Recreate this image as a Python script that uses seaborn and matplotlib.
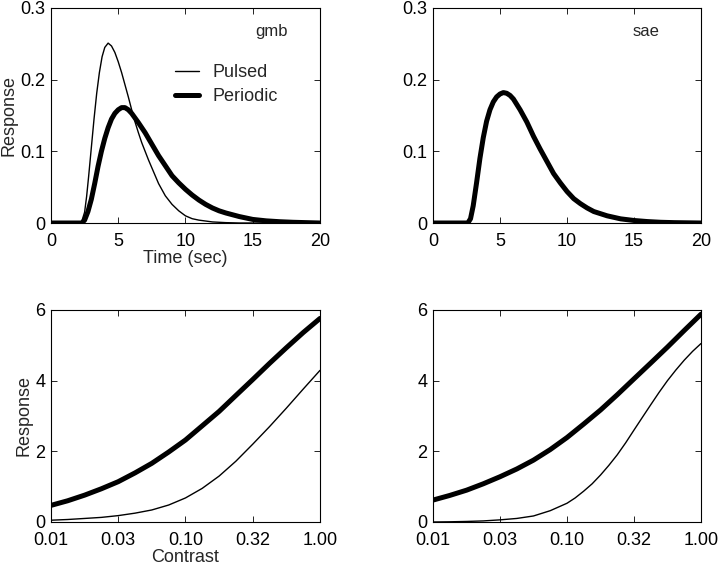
import matplotlib
matplotlib.use("Agg")
import matplotlib.pyplot as plt
import seaborn as sns
from matplotlib.ticker import NullLocator, FixedLocator, FixedFormatter

# --- values ---
# top row: responses over time (sec)
time_gmb_pulsed = [0, 2.1, 2.3, 2.5, 2.65, 2.8, 3.0, 3.2, 3.4, 3.6, 3.8, 4.0, 4.25, 4.5,
                   4.75, 5.0, 5.25, 5.5, 5.75, 6.0, 6.25, 6.5, 6.75, 7.0, 7.25, 7.5,
                   8.0, 8.5, 9.0, 9.5, 10, 10.5, 11, 12, 13, 14, 20]
resp_gmb_pulsed = [0, 0, 0.003, 0.015, 0.037, 0.065, 0.105, 0.145, 0.181, 0.21, 0.232,
                   0.245, 0.251, 0.247, 0.238, 0.225, 0.21, 0.193, 0.176, 0.158, 0.141,
                   0.126, 0.112, 0.1, 0.088, 0.077, 0.055, 0.038, 0.026, 0.017, 0.01,
                   0.006, 0.004, 0.0015, 0.0005, 0, 0]

time_gmb_periodic = [0, 2.3, 2.5, 2.75, 3.0, 3.25, 3.5, 3.75, 4.0, 4.25, 4.5, 4.75, 5.0,
                     5.25, 5.5, 5.75, 6.0, 6.5, 7.0, 7.5, 8.0, 8.5, 9.0, 9.5, 10, 10.5,
                     11, 11.5, 12, 12.5, 13, 14, 15, 16, 17, 18, 19, 20]
resp_gmb_periodic = [0, 0, 0.004, 0.016, 0.033, 0.055, 0.079, 0.1, 0.118, 0.133, 0.145,
                     0.153, 0.158, 0.161, 0.161, 0.158, 0.153, 0.14, 0.126, 0.11, 0.094,
                     0.08, 0.066, 0.056, 0.047, 0.039, 0.032, 0.026, 0.021, 0.017, 0.014,
                     0.009, 0.005, 0.003, 0.0018, 0.001, 0.0005, 0]

time_sae_periodic = [0, 2.6, 2.8, 3.0, 3.25, 3.5, 3.75, 4.0, 4.25, 4.5, 4.75, 5.0, 5.25,
                     5.5, 5.75, 6.0, 6.5, 7.0, 7.5, 8.0, 8.5, 9.0, 9.5, 10, 10.5, 11,
                     11.5, 12, 12.5, 13, 14, 15, 16, 17, 18, 20]
resp_sae_periodic = [0, 0, 0.006, 0.024, 0.056, 0.09, 0.119, 0.142, 0.158, 0.169, 0.176,
                     0.18, 0.182, 0.181, 0.178, 0.173, 0.158, 0.141, 0.121, 0.103, 0.086,
                     0.069, 0.056, 0.044, 0.034, 0.027, 0.021, 0.016, 0.013, 0.01, 0.0058,
                     0.0035, 0.002, 0.001, 0.0005, 0]

# bottom row: responses vs contrast
contrast = [0.01, 0.0133, 0.0178, 0.0237, 0.0316, 0.0422, 0.0562, 0.075, 0.1, 0.133,
            0.178, 0.237, 0.316, 0.422, 0.562, 0.75, 1.0]
resp_gmb_pulsed_c = [0.05, 0.07, 0.1, 0.13, 0.18, 0.25, 0.34, 0.48, 0.68, 0.95, 1.3,
                     1.72, 2.2, 2.7, 3.22, 3.76, 4.29]
resp_gmb_periodic_c = [0.47, 0.6, 0.76, 0.94, 1.14, 1.39, 1.66, 1.98, 2.32, 2.72, 3.13,
                       3.58, 4.03, 4.49, 4.93, 5.36, 5.76]
resp_sae_periodic_c = [0.62, 0.75, 0.9, 1.08, 1.28, 1.5, 1.75, 2.05, 2.39, 2.77, 3.17,
                       3.6, 4.05, 4.5, 4.95, 5.42, 5.88]

contrast_fine = [0.01, 0.0133, 0.0178, 0.0237, 0.0316, 0.0422, 0.0562, 0.075, 0.1,
                 0.115, 0.133, 0.154, 0.178, 0.205, 0.237, 0.274, 0.316, 0.365, 0.422,
                 0.487, 0.562, 0.649, 0.75, 0.866, 1.0]
resp_sae_pulsed_c = [0.0, 0.005, 0.015, 0.03, 0.06, 0.1, 0.17, 0.32, 0.53, 0.68, 0.87,
                     1.08, 1.33, 1.6, 1.9, 2.24, 2.6, 2.96, 3.32, 3.67, 4.0, 4.3, 4.58,
                     4.83, 5.05]

contrast_ticks = [0.01, 0.0316, 0.1, 0.316, 1.0]
contrast_ticklabels = ["0.01", "0.03", "0.10", "0.32", "1.00"]

sns.set_style("ticks")
plt.rcParams["font.family"] = ["Liberation Sans", "DejaVu Sans"]
plt.rcParams["axes.edgecolor"] = "black"
plt.rcParams["xtick.color"] = "black"
plt.rcParams["ytick.color"] = "black"

THIN = 1.0
THICK = 3.6

fig = plt.figure(figsize=(7.2, 5.67), dpi=100)
ax_tl = fig.add_axes([0.0708, 0.6067, 0.3736, 0.3792])
ax_tr = fig.add_axes([0.6014, 0.6067, 0.3722, 0.3792])
ax_bl = fig.add_axes([0.0708, 0.0794, 0.3736, 0.3739])
ax_br = fig.add_axes([0.6014, 0.0794, 0.3722, 0.3739])


def style_axes(ax):
    for s in ax.spines.values():
        s.set_visible(True)
        s.set_color("black")
        s.set_linewidth(0.8)
    ax.tick_params(direction="in", length=4, width=0.6, top=True, right=True,
                   labelsize=13)
    ax.tick_params(axis="x", pad=7)
    ax.tick_params(axis="y", pad=4)


# top left: gmb
sns.lineplot(x=time_gmb_pulsed, y=resp_gmb_pulsed, ax=ax_tl, color="black",
             linewidth=THIN, label="Pulsed", sort=False)
sns.lineplot(x=time_gmb_periodic, y=resp_gmb_periodic, ax=ax_tl, color="black",
             linewidth=THICK, label="Periodic", sort=False)
ax_tl.legend(loc="upper left", bbox_to_anchor=(0.40, 0.815), frameon=False,
             fontsize=13, handlelength=1.35, handletextpad=0.75, labelspacing=0.4)
ax_tl.text(0.76, 0.87, "gmb", transform=ax_tl.transAxes, fontsize=12)
ax_tl.set_xlabel("Time (sec)", fontsize=13, labelpad=0)
ax_tl.set_ylabel("Response", fontsize=13, labelpad=2)

# top right: sae
sns.lineplot(x=time_sae_periodic, y=resp_sae_periodic, ax=ax_tr, color="black",
             linewidth=THICK, sort=False)
ax_tr.text(0.745, 0.87, "sae", transform=ax_tr.transAxes, fontsize=12)

for ax in (ax_tl, ax_tr):
    ax.set_xlim(0, 20)
    ax.set_ylim(0, 0.3)
    ax.set_xticks([0, 5, 10, 15, 20])
    ax.set_yticks([0, 0.1, 0.2, 0.3])
    ax.set_yticklabels(["0", "0.1", "0.2", "0.3"])
    style_axes(ax)

# bottom left: gmb contrast
sns.lineplot(x=contrast, y=resp_gmb_pulsed_c, ax=ax_bl, color="black",
             linewidth=THIN, sort=False)
sns.lineplot(x=contrast, y=resp_gmb_periodic_c, ax=ax_bl, color="black",
             linewidth=THICK, sort=False)
ax_bl.set_xlabel("Contrast", fontsize=13, labelpad=0)
ax_bl.set_ylabel("Response", fontsize=13, labelpad=2)

# bottom right: sae contrast
sns.lineplot(x=contrast_fine, y=resp_sae_pulsed_c, ax=ax_br, color="black",
             linewidth=THIN, sort=False)
sns.lineplot(x=contrast, y=resp_sae_periodic_c, ax=ax_br, color="black",
             linewidth=THICK, sort=False)

for ax in (ax_bl, ax_br):
    ax.set_xscale("log")
    ax.set_xlim(0.01, 1.0)
    ax.set_ylim(0, 6)
    ax.xaxis.set_major_locator(FixedLocator(contrast_ticks))
    ax.xaxis.set_major_formatter(FixedFormatter(contrast_ticklabels))
    ax.xaxis.set_minor_locator(NullLocator())
    ax.set_yticks([0, 2, 4, 6])
    style_axes(ax)

fig.savefig("out.png", dpi=100)
